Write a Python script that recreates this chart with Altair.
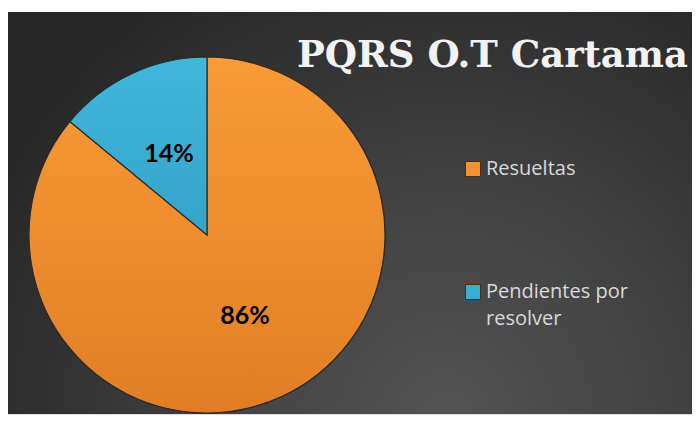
import altair as alt
import pandas as pd

# ---- data ----
categories = ["Resueltas", "Pendientes por resolver"]
values = [86, 14]
pct_labels = ["86%", "14%"]
slice_colors = ["#F39130", "#3AAED2"]
title_text = "PQRS O.T Cartama"

df = pd.DataFrame({"cat": categories, "val": values, "lab": pct_labels, "ord": [0, 1]})

W, H = 684, 402
CX, CY, R = 199, 223, 178

bg_grad = {
    "gradient": "radial",
    "x1": 0.64, "y1": 0.8, "x2": 0.64, "y2": 0.8,
    "r1": 0, "r2": 0.75,
    "stops": [
        {"offset": 0, "color": "#545454"},
        {"offset": 0.5, "color": "#3f3f3f"},
        {"offset": 1, "color": "#262626"},
    ],
}
orange_grad = {
    "gradient": "linear", "x1": 0, "y1": 0, "x2": 0, "y2": 1,
    "stops": [{"offset": 0, "color": "#F99B37"}, {"offset": 1, "color": "#E17E25"}],
}
cyan_grad = {
    "gradient": "linear", "x1": 0, "y1": 0, "x2": 0, "y2": 1,
    "stops": [{"offset": 0, "color": "#40B7DB"}, {"offset": 1, "color": "#34A4C9"}],
}

bg = alt.Chart(pd.DataFrame({"a": [0]})).mark_rect(color=bg_grad).encode(
    x=alt.value(0), x2=alt.value(W), y=alt.value(0), y2=alt.value(H)
)

pie = alt.Chart(df).mark_arc(outerRadius=R, stroke="#2a2a2a", strokeWidth=1.2).encode(
    theta=alt.Theta("val:Q", stack=True),
    order=alt.Order("ord:Q"),
    color=alt.Color(
        "cat:N",
        sort=categories,
        scale=alt.Scale(domain=categories, range=slice_colors),
        legend=alt.Legend(
            title=None,
            orient="none",
            legendX=455,
            legendY=147,
            symbolType="square",
            symbolSize=225,
            symbolStrokeWidth=1,
            symbolStrokeColor="#4a3010",
            labelFont="Open Sans",
            labelFontSize=20,
            labelColor="#d9d9d9",
            labelLimit=300,
            labelOffset=3,
            rowPadding=103,
            padding=0,
            labelExpr="datum.label == 'Pendientes por resolver' ? ['Pendientes por', 'resolver'] : datum.label",
        ),
    ),
    x=alt.value(CX),
    y=alt.value(CY),
)

pie_fill = alt.Chart(df).mark_arc(outerRadius=R, stroke="#2a2a2a", strokeWidth=1.2).encode(
    theta=alt.Theta("val:Q", stack=True),
    order=alt.Order("ord:Q"),
    fill=alt.condition("datum.cat == 'Resueltas'", alt.value(orange_grad), alt.value(cyan_grad)),
    x=alt.value(CX),
    y=alt.value(CY),
)

txt = alt.Chart(df).mark_text(
    radius=89, font="Lato", fontWeight="bold", fontSize=25, color="#000000"
).encode(
    theta=alt.Theta("val:Q", stack=True),
    order=alt.Order("ord:Q"),
    text="lab:N",
    x=alt.value(CX),
    y=alt.value(CY),
)

tdf = pd.DataFrame({"t": [title_text]})
title = alt.Chart(tdf).mark_text(
    font="DejaVu Serif", fontSize=37, fontWeight="bold", color="#f2f2f2",
    align="left", baseline="alphabetic"
).encode(text="t:N", x=alt.value(289), y=alt.value(55))

chart = alt.layer(bg, pie, pie_fill, txt, title).properties(
    width=W, height=H, padding={"left": 0, "top": 4, "right": 0, "bottom": 0}
).configure_view(stroke=None).configure(
    background="#ffffff", style={"guide-label": {"lineHeight": 27}}
)

chart.save("out.html", embed_options={"renderer": "svg", "actions": False})
